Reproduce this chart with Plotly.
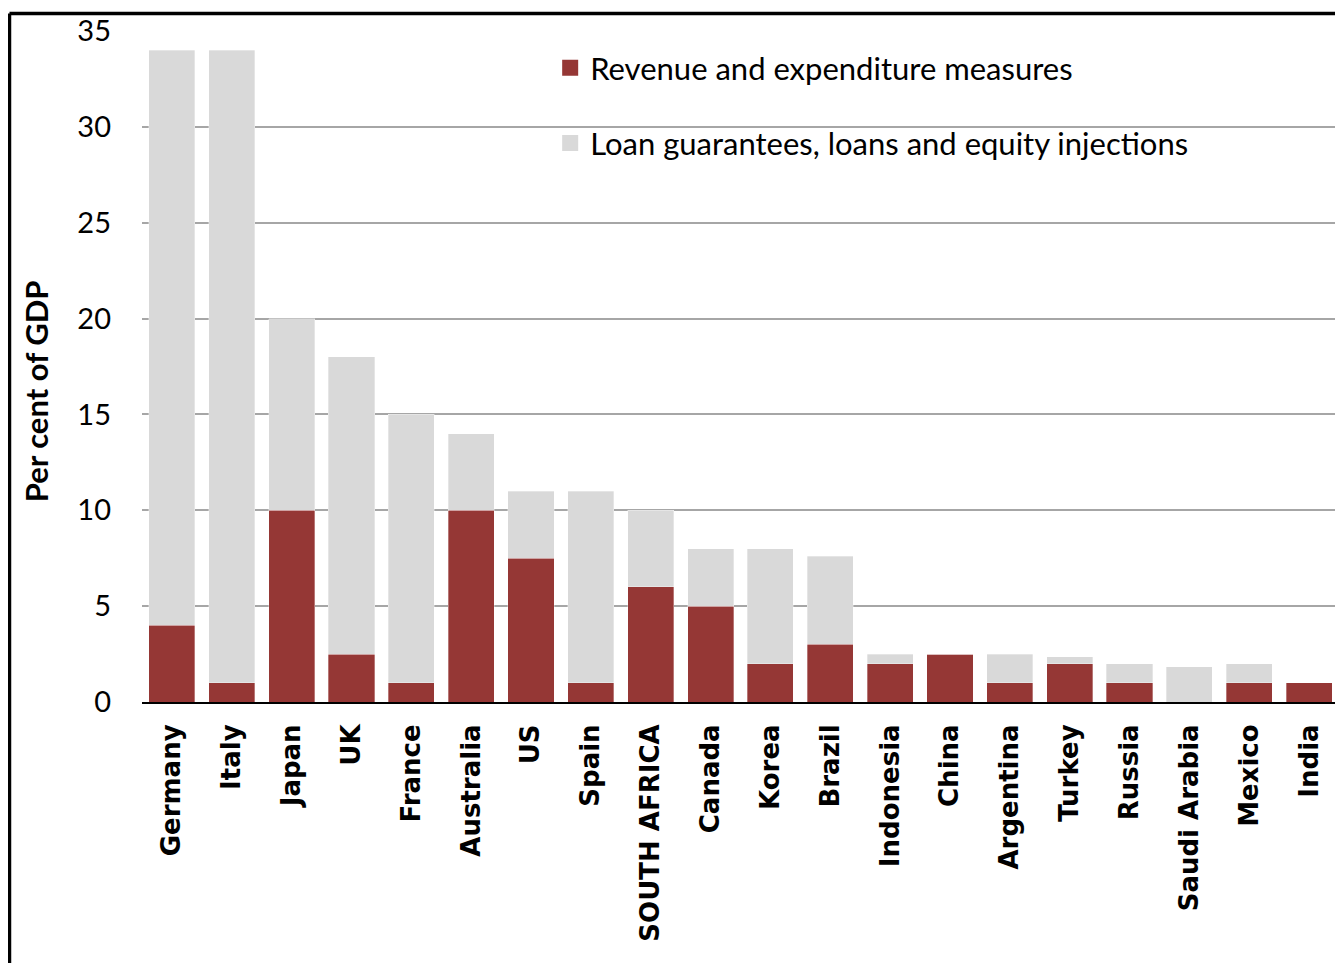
import plotly.graph_objects as go

countries = ["Germany", "Italy", "Japan", "UK", "France", "Australia", "US", "Spain",
             "SOUTH AFRICA", "Canada", "Korea", "Brazil", "Indonesia", "China",
             "Argentina", "Turkey", "Russia", "Saudi Arabia", "Mexico", "India"]
revenue_expenditure = [4, 1, 10, 2.5, 1, 10, 7.5, 1, 6, 5, 2, 3, 2, 2.5, 1, 2, 1, 0, 1, 1]
loans_equity = [30, 33, 10, 15.5, 14, 4, 3.5, 10, 4, 3, 6, 4.6, 0.5, 0, 1.5, 0.35, 1, 1.85, 1, 0]
y_ticks = [0, 5, 10, 15, 20, 25, 30, 35]
series_names = ["Revenue and expenditure measures", "Loan guarantees, loans and equity injections"]

RED = "#953735"
GREY = "#D9D9D9"
BODY_FONT = "Lato"

fig = go.Figure()
for vals, name, col in [(revenue_expenditure, series_names[0], RED), (loans_equity, series_names[1], GREY)]:
    fig.add_trace(go.Bar(x=countries, y=vals, name=name, showlegend=False,
                         marker=dict(color=col, line=dict(color="rgba(255,255,255,0.4)", width=0.8))))
# legend entries with larger square swatches
for i, (name, col) in enumerate([(series_names[0], RED), (series_names[1], GREY)]):
    fig.add_trace(go.Scatter(x=[None], y=[None], mode="markers", name=name,
                             marker=dict(symbol="square", size=16, color=col),
                             legendgroup=f"g{i}", showlegend=True, hoverinfo="skip"))

fig.update_layout(
    barmode="stack",
    bargap=0.23,
    width=1335, height=955,
    margin=dict(l=134, r=4, t=19, b=261),
    plot_bgcolor="white", paper_bgcolor="white",
    font=dict(family=BODY_FONT, color="black"),
    showlegend=True,
    legend=dict(x=0.341, y=0.985, xanchor="left", yanchor="top",
                font=dict(size=31, family=BODY_FONT), bgcolor="rgba(0,0,0,0)",
                traceorder="grouped", tracegroupgap=32, itemwidth=30, itemsizing="trace"),
)
fig.update_yaxes(range=[0, 35], tickvals=y_ticks, showgrid=True, gridcolor="#A6A6A6", gridwidth=1.5,
                 zeroline=False, showline=False, ticks="", ticklabelstandoff=30,
                 tickfont=dict(size=29, family=BODY_FONT))
fig.update_xaxes(tickangle=-90, showline=True, linecolor="black", linewidth=2, ticks="",
                 ticklabelstandoff=10, tickfont=dict(size=26, family="DejaVu Sans", weight="bold"),
                 showgrid=False)

fig.add_annotation(text="<b>Per cent of GDP</b>", xref="paper", yref="paper",
                   x=-0.0886, y=0.463, xanchor="center", yanchor="middle",
                   textangle=-90, showarrow=False,
                   font=dict(size=31, family=BODY_FONT, color="black"))

# outer frame (left and top edges visible in the reference)
fig.add_shape(type="line", xref="paper", yref="paper", x0=-0.1107, x1=-0.1107, y0=-0.40, y1=1.026,
              line=dict(color="black", width=3.5))
fig.add_shape(type="line", xref="paper", yref="paper", x0=-0.1107, x1=1.01, y0=1.026, y1=1.026,
              line=dict(color="black", width=3.5))

fig.write_html("out.html")
